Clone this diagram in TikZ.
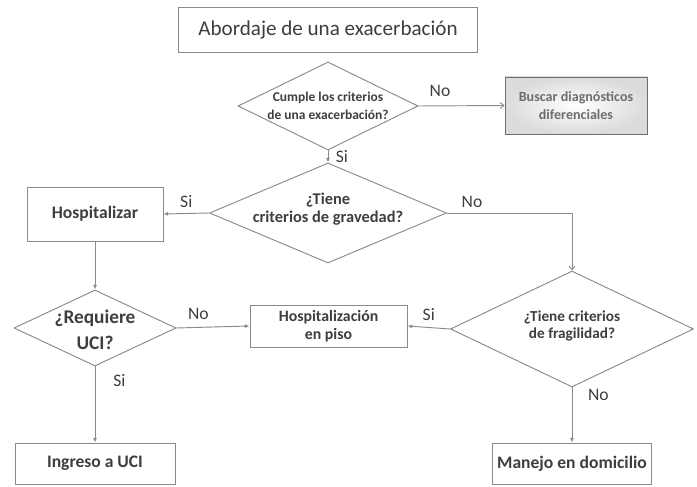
\documentclass[tikz,border=0pt]{standalone}
\usepackage{fontspec}
\setmainfont{Carlito}
\usetikzlibrary{shapes.geometric,arrows.meta}
\definecolor{linegray}{HTML}{8A8A8A}
\definecolor{txtgray}{HTML}{3E3E3E}
\definecolor{softgray}{HTML}{6E6E6E}
\begin{document}
\begin{tikzpicture}[
    x=0.03cm, y=-0.03cm,
    every node/.style={text=txtgray},
    block/.style={rectangle, draw=linegray, line width=0.8pt, fill=white, align=center, inner sep=0pt},
    decision/.style={diamond, draw=linegray, line width=0.8pt, inner sep=0pt},
    qtext/.style={align=center, inner sep=0pt, font=\bfseries},
    answer/.style={font=\fontsize{15}{16}\selectfont},
    flow/.style={draw=linegray, line width=0.8pt, -{Latex[length=4pt,width=3.5pt]}},
    openflow/.style={draw=linegray, line width=0.8pt, -{Straight Barb[length=3pt,width=5pt]}}
]
\useasboundingbox (0,0) rectangle (697,487);

% Title and first question
\node[block, minimum width=8.97cm, minimum height=1.35cm, font=\fontsize{18}{20}\selectfont] (title) at (328,29.5) {Abordaje de una exacerbación};
\node[decision, minimum width=5.4cm, minimum height=2.64cm] (cumple) at (328,106) {};
\node[qtext, font=\bfseries\fontsize{11.5}{15}\selectfont] (cumpleT) at (cumple.center) {Cumple los criterios\\de una exacerbación?};
\node[block, draw=softgray, inner color=white, outer color=gray!28, minimum width=4.26cm, minimum height=1.71cm,
      font=\bfseries\fontsize{12}{15.5}\selectfont, text=softgray] (buscar) at (576,105.5) {Buscar diagnósticos\\diferenciales};

% Severity
\node[decision, minimum width=7.11cm, minimum height=3.0cm] (gravedad) at (328,213) {};
\node[qtext, font=\bfseries\fontsize{14}{15.5}\selectfont] (gravedadT) at (328,209) {¿Tiene\\criterios de gravedad?};
\node[block, minimum width=4.08cm, minimum height=1.62cm, font=\bfseries\fontsize{15}{17}\selectfont] (hosp) at (95,214) {Hospitalizar};

% Second level
\node[decision, minimum width=4.86cm, minimum height=2.28cm] (uci) at (95,328) {};
\node[qtext, font=\bfseries\fontsize{16.5}{22}\selectfont] (uciT) at (95,330) {¿Requiere\\UCI?};
\node[block, minimum width=4.71cm, minimum height=1.26cm, font=\bfseries\fontsize{13.5}{15}\selectfont] (piso) at (328.5,326) {Hospitalización\\en piso};
\node[decision, minimum width=7.29cm, minimum height=3.48cm] (fragil) at (572,329) {};
\node[qtext, font=\bfseries\fontsize{13}{15}\selectfont] (fragilT) at (572,326) {¿Tiene criterios\\de fragilidad?};

% Final boxes
\node[block, minimum width=4.8cm, minimum height=1.23cm, font=\bfseries\fontsize{15}{17}\selectfont] (ingreso) at (95,463.5) {Ingreso a UCI};
\node[block, minimum width=4.77cm, minimum height=1.23cm, font=\bfseries\fontsize{15}{17}\selectfont] (domicilio) at (572,463.5) {Manejo en domicilio};

% Connections
\draw[openflow] (cumple.east) -- (buscar.west) node [pos=0.25, above=4pt, answer] (noBuscar) {No};
\draw[flow] (cumple.south) -- (gravedad.north) node [midway, right=3pt, answer] (siGravedad) {Si};
\draw[flow] (gravedad.west) -- (hosp.east) node [midway, above=1pt, answer] (siHosp) {Si};
\draw[openflow] (gravedad.east) -| (fragil.north) node [pos=0.1, above=1pt, answer] (noFragil) {No};
\draw[flow] (hosp.south) -- (uci.north);
\draw[flow] (uci.east) -- (piso.west) node [pos=0.3, above=3pt, answer] (noPiso) {No};
\draw[flow] (fragil.west) -- (piso.east) node [midway, above=2pt, answer] (siPiso) {Si};
\draw[flow] (uci.south) -- (ingreso.north) node [pos=0.18, right=12pt, answer] (siIngreso) {Si};
\draw[flow] (fragil.south) -- (domicilio.north) node [pos=0.13, right=10pt, answer] (noDomicilio) {No};

\end{tikzpicture}
\end{document}
